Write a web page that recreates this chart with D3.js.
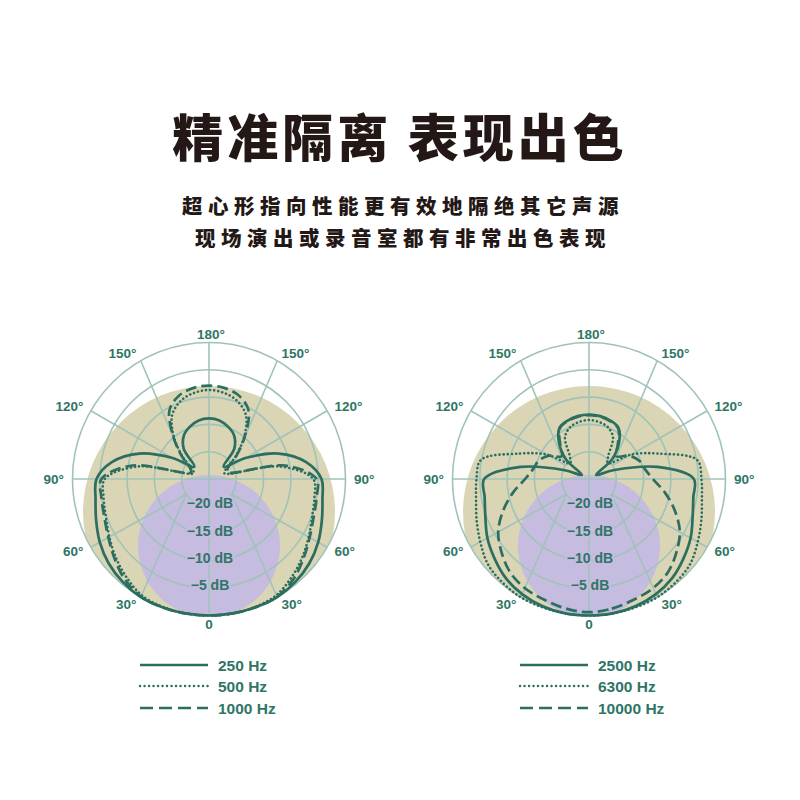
<!DOCTYPE html>
<html><head><meta charset="utf-8">
<script src="https://cdn.jsdelivr.net/npm/d3@7"></script>
<style>
html,body{margin:0;padding:0;background:#fff;}
svg{display:block;}
</style></head>
<body>
<svg id="c" width="800" height="800"></svg>
<script>
// ---------- data ----------
const title = "精准隔离 表现出色";
const subtitle1 = "超心形指向性能更有效地隔绝其它声源";
const subtitle2 = "现场演出或录音室都有非常出色表现";

const angles = [0,10,20,30,40,50,60,70,80,90,100,110,120,130,140,150,160,170,180];
// left chart (dB at each angle, symmetric pattern)
const hz250  = [0,0,0,0,-0.4,-1.0,-1.9,-3.0,-3.9,-4.4,-7.0,-11.4,-17.3,-21.5,-17.8,-15.8,-14.8,-14.1,-13.9];
const hz500  = [0,0,-0.1,-0.4,-1.5,-2.7,-3.9,-4.9,-5.4,-5.9,-11.8,-22.0,-21.5,-18.8,-15.0,-11.5,-9.8,-9.0,-8.7];
const hz1000 = [0,0,0,-0.1,-1.0,-2.4,-3.7,-4.6,-5.0,-5.3,-10.8,-21.5,-21.0,-18.5,-14.8,-10.5,-8.8,-8.1,-7.9];
// right chart
const hz2500  = [0,0,-0.2,-0.6,-1.3,-2.4,-3.5,-4.8,-5.6,-5.8,-12.3,-20.3,-23.5,-19.6,-16.5,-14.2,-13.6,-13.3,-13.2];
const hz6300  = [0,0,0,0,-0.3,-0.8,-2.0,-3.1,-4.0,-4.4,-4.9,-11.4,-16.0,-20.5,-19.5,-16.2,-14.9,-14.4,-14.2];
const hz10000 = [-0.6,-0.9,-1.4,-1.8,-2.6,-4.1,-5.8,-8.3,-10.9,-13.3,-14.6,-15.2,-16.5,-18.5,-16.8,-14.3,-13.7,-13.4,-13.3];

const ringDb = [-20,-15,-10,-5,0];
const ringLabels = ["\u221220 dB","\u221215 dB","\u221210 dB","\u22125 dB"];
const angleTicks = [0,30,60,90,120,150,180];
const angleLabels = ["0","30°","60°","90°","120°","150°","180°"];

const leftNames = ["250 Hz","500 Hz","1000 Hz"];
const rightNames = ["2500 Hz","6300 Hz","10000 Hz"];
const styles = ["solid","dotted","dashed"];

// ---------- drawing ----------
const svg = d3.select("#c");
const teal = "#2c6e5f";
const grid = "#a0c3b9";
const textCol = "#2f7565";
const beige = "#dad5b4";
const purple = "#c5bce0";

svg.append("text").attr("x",400).attr("y",135).attr("text-anchor","middle")
  .attr("dominant-baseline","central")
  .style("font-family","'Noto Sans CJK SC'").style("font-weight",900)
  .style("font-size","51px").style("letter-spacing","4px").attr("fill","#231815")
  .text(title);
[subtitle1, subtitle2].forEach((s,i)=>{
  svg.append("text").attr("x",400+3).attr("y",[205,237][i]).attr("text-anchor","middle")
    .attr("dominant-baseline","central")
    .style("font-family","'Noto Sans CJK SC'").style("font-weight",900)
    .style("font-size","20.5px").style("letter-spacing","5.5px").attr("fill","#231815")
    .text(s);
});

const R = 136.5;
const r = d3.scaleLinear().domain([-25,0]).range([0,R]).clamp(true);
const deg = Math.PI/180;

function pt(theta, rad, side){ // theta from bottom, side +1 right, -1 left
  return [side*rad*Math.sin(theta*deg), rad*Math.cos(theta*deg)];
}

function drawChart(cx, cy, series, names, id){
  const g = svg.append("g").attr("transform",`translate(${cx},${cy})`);
  const clipId = "clip"+id;
  g.append("clipPath").attr("id",clipId).append("circle").attr("r",R);
  const bg = g.append("g").attr("clip-path",`url(#${clipId})`);
  bg.append("circle").attr("cx",0).attr("cy",33).attr("r",126).attr("fill",beige);
  bg.append("circle").attr("cx",0).attr("cy",67).attr("r",71).attr("fill",purple);

  // rings
  g.selectAll("circle.ring").data(ringDb).enter().append("circle")
    .attr("class","ring").attr("r",d=>r(d)).attr("fill","none")
    .attr("stroke",grid).attr("stroke-width",1.6);
  // spokes
  const spokes = [
    {a:0, ia:0, ir:-25, s:1},
    {a:30, ia:56, ir:-20, s:1},{a:60, ia:56, ir:-20, s:1},
    {a:120, ia:120, ir:-20, s:1},{a:150, ia:120, ir:-20, s:1},
    {a:180, ia:180, ir:-25, s:1},
    {a:30, ia:56, ir:-20, s:-1},{a:60, ia:56, ir:-20, s:-1},
    {a:120, ia:120, ir:-20, s:-1},{a:150, ia:120, ir:-20, s:-1},
    {a:90, ia:90, ir:-25, s:1},{a:90, ia:90, ir:-25, s:-1}
  ];
  g.selectAll("line.spoke").data(spokes).enter().append("line")
    .attr("x1",d=>pt(d.ia,r(d.ir),d.s)[0]).attr("y1",d=>pt(d.ia,r(d.ir),d.s)[1])
    .attr("x2",d=>pt(d.a,R,d.s)[0]).attr("y2",d=>pt(d.a,R,d.s)[1])
    .attr("stroke",grid).attr("stroke-width",1.6);

  // ring labels
  g.selectAll("text.rl").data(ringLabels).enter().append("text")
    .attr("x",1).attr("y",(d,i)=>r(ringDb[i])-3).attr("text-anchor","middle")
    .attr("dominant-baseline","central")
    .style("font-family","'Liberation Sans', Arial").style("font-weight",700)
    .style("font-size","14px").attr("fill",textCol)
    .attr("stroke",purple).attr("stroke-width",4).style("paint-order","stroke")
    .text(d=>d);

  // angle labels
  const labR = 145;
  angleTicks.forEach((a,i)=>{
    [1,-1].forEach(s=>{
      if((a===0||a===180) && s===-1) return;
      const p = pt(a,labR,s);
      let anchor = (a===0||a===180) ? "middle" : (s>0?"start":"end");
      g.append("text").attr("x",p[0]+(anchor==="middle"?(a===180?2:0):0)).attr("y",p[1])
        .attr("text-anchor",anchor).attr("dominant-baseline","central")
        .style("font-family","'Liberation Sans', Arial").style("font-weight",700)
        .style("font-size","13.5px").attr("fill",textCol)
        .text(angleLabels[i]);
    });
  });

  // curves
  const line = d3.lineRadial().curve(d3.curveCatmullRomClosed.alpha(0.5));
  series.forEach((vals,k)=>{
    const pts = [];
    angles.forEach((a,j)=>pts.push([Math.PI - a*deg, r(vals[j])]));
    for(let j=angles.length-2;j>=1;j--) pts.push([Math.PI + angles[j]*deg, r(vals[j])]);
    const path = g.append("path").attr("d",line(pts)).attr("fill","none")
      .attr("stroke",teal).attr("stroke-linejoin","round");
    if(styles[k]==="solid") path.attr("stroke-width",2.7);
    if(styles[k]==="dotted") path.attr("stroke-width",2.6).attr("stroke-dasharray","0.1,4").attr("stroke-linecap","round");
    if(styles[k]==="dashed") path.attr("stroke-width",2.7).attr("stroke-dasharray","11,5");
  });

  // legend
  const lx = cx - 69, ly = [665,686,708];
  names.forEach((n,k)=>{
    const l = svg.append("line").attr("x1",lx).attr("x2",lx+68).attr("y1",ly[k]).attr("y2",ly[k])
      .attr("stroke",teal);
    if(styles[k]==="solid") l.attr("stroke-width",2.6);
    if(styles[k]==="dotted") l.attr("stroke-width",2.4).attr("stroke-dasharray","0.1,4.4").attr("stroke-linecap","round");
    if(styles[k]==="dashed") l.attr("stroke-width",2.6).attr("stroke-dasharray","13,6");
    svg.append("text").attr("x",lx+78).attr("y",ly[k]).attr("dominant-baseline","central")
      .style("font-family","'Liberation Sans', Arial").style("font-weight",700)
      .style("font-size","15.5px").attr("fill",textCol).text(n);
  });
}

drawChart(209, 479, [hz250,hz500,hz1000], leftNames, "L");
drawChart(589, 479, [hz2500,hz6300,hz10000], rightNames, "R");
</script>
</body></html>
